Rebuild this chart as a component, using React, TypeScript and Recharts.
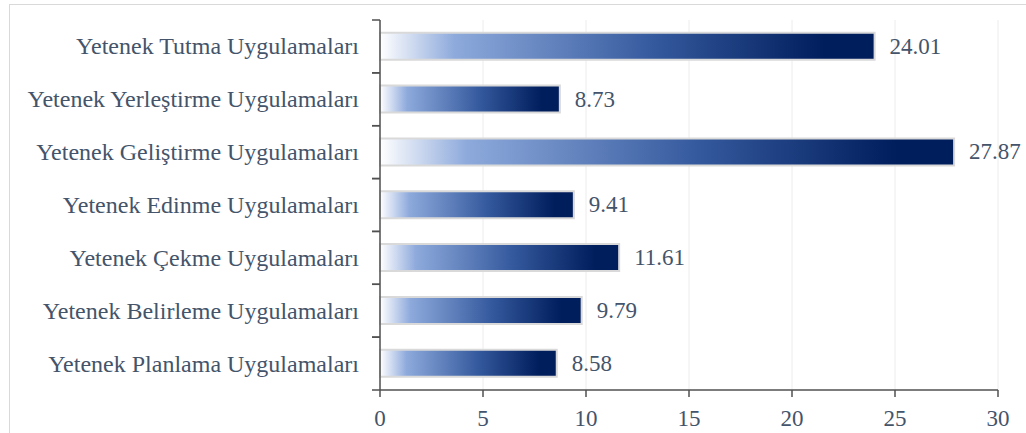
import React from "react";
import {
  BarChart,
  Bar,
  XAxis,
  YAxis,
  CartesianGrid,
  LabelList,
} from "recharts";

// categories top to bottom
const categories = [
  "Yetenek Tutma Uygulamaları",
  "Yetenek Yerleştirme Uygulamaları",
  "Yetenek Geliştirme Uygulamaları",
  "Yetenek Edinme Uygulamaları",
  "Yetenek Çekme Uygulamaları",
  "Yetenek Belirleme Uygulamaları",
  "Yetenek Planlama Uygulamaları",
];
const values = [24.01, 8.73, 27.87, 9.41, 11.61, 9.79, 8.58];
const xTicks = [0, 5, 10, 15, 20, 25, 30];

const data = categories.map((name, i) => ({ name, value: values[i] }));

const TEXT = "#44546a";
const AXIS = "#505050";
const FONT = '"Liberation Serif", "Times New Roman", serif';

const CategoryTick = (props: any) => {
  const { x, y, payload } = props;
  const half = payload?.offset ?? 26.4;
  const axisX = x + 8 + 13;
  return (
    <g>
      <line x1={axisX - 8} x2={axisX} y1={y - half} y2={y - half} stroke={AXIS} strokeWidth={1.5} />
      <line x1={axisX - 8} x2={axisX} y1={y + half} y2={y + half} stroke={AXIS} strokeWidth={1.5} />
      <text
        x={x}
        y={y}
        textAnchor="end"
        dominantBaseline="central"
        fill={TEXT}
        fontSize={24}
        fontFamily={FONT}
      >
        {payload.value}
      </text>
    </g>
  );
};

const ValueTick = (props: any) => {
  const { x, y, payload } = props;
  return (
    <text
      x={x}
      y={y}
      dy="0.71em"
      textAnchor="middle"
      fill={TEXT}
      fontSize={23}
      fontFamily={FONT}
    >
      {payload.value}
    </text>
  );
};

const BarValue = (props: any) => {
  const { x, y, width, height, value } = props;
  return (
    <text
      x={Number(x) + Number(width) + 15}
      y={Number(y) + Number(height) / 2}
      dominantBaseline="central"
      textAnchor="start"
      fill={TEXT}
      fontSize={23}
      fontFamily={FONT}
    >
      {Number(value).toFixed(2)}
    </text>
  );
};

export default function App() {
  return (
    <div
      style={{
        position: "fixed",
        left: 0,
        top: 0,
        width: 1026,
        height: 433,
        overflow: "hidden",
        background: "#fff",
      }}
    >
      {/* frame */}
      <div
        style={{
          position: "absolute",
          left: 9,
          top: 4,
          width: 1100,
          height: 500,
          borderTop: "1px solid #d9d9d9",
          borderLeft: "1px solid #d9d9d9",
        }}
      />
      <div style={{ position: "absolute", left: 0, top: 0 }}>
        <BarChart
          width={1026}
          height={433}
          data={data}
          layout="vertical"
          margin={{ top: 20, right: 28, left: 0, bottom: 0 }}
          barCategoryGap="24%"
        >
          <defs>
            <linearGradient id="barGrad" x1="0" y1="0" x2="1" y2="0">
              <stop offset="0%" stopColor="#ffffff" />
              <stop offset="15%" stopColor="#8eaadc" />
              <stop offset="55%" stopColor="#355a9e" />
              <stop offset="90%" stopColor="#001d5c" />
              <stop offset="100%" stopColor="#001d5c" />
            </linearGradient>
          </defs>
          <CartesianGrid horizontal={false} stroke="#ececec" />
          <XAxis
            type="number"
            domain={[0, 30]}
            ticks={xTicks}
            height={43}
            tickSize={7}
            tickMargin={13}
            axisLine={{ stroke: AXIS, strokeWidth: 1.5 }}
            tickLine={{ stroke: AXIS, strokeWidth: 1.5 }}
            tick={<ValueTick />}
          />
          <YAxis
            type="category"
            dataKey="name"
            width={380}
            tickLine={false}
            tickSize={8}
            tickMargin={13}
            axisLine={{ stroke: AXIS, strokeWidth: 1.5 }}
            tick={<CategoryTick />}
            interval={0}
          />
          <Bar
            dataKey="value"
            fill="url(#barGrad)"
            stroke="#d9d9d9"
            strokeWidth={2}
            isAnimationActive={false}
          >
            <LabelList dataKey="value" content={<BarValue />} />
          </Bar>
        </BarChart>
      </div>
    </div>
  );
}
